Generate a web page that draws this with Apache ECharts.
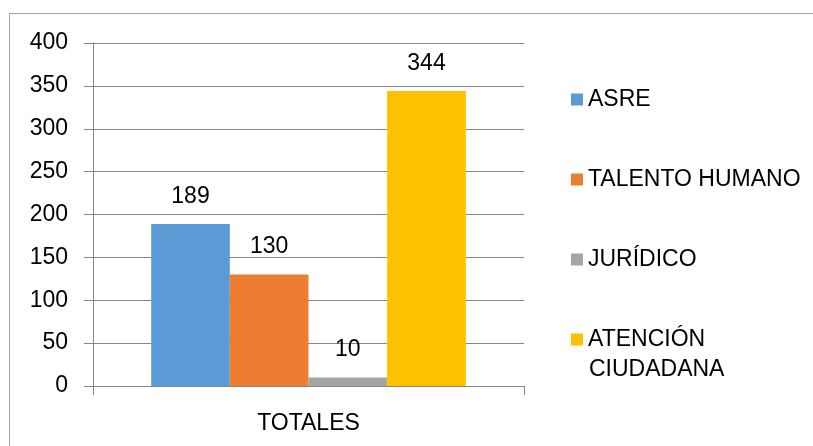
<!DOCTYPE html>
<html>
<head>
<meta charset="utf-8">
<script src="https://cdn.jsdelivr.net/npm/echarts@6/dist/echarts.min.js"></script>
<style>
  html, body { margin: 0; padding: 0; background: #fff; }
  #chart { width: 813px; height: 446px; }
</style>
</head>
<body>
<div id="chart"></div>
<script>
// datos del gráfico
const categories = ['TOTALES']
const seriesNames = ['ASRE', 'TALENTO HUMANO', 'JURÍDICO', 'ATENCIÓN CIUDADANA']
const seriesValues = [[189], [130], [10], [344]]
const colors = ['#5B9BD5', '#ED7D31', '#A5A5A5', '#FFC000']
const yTicks = [0, 50, 100, 150, 200, 250, 300, 350, 400]

const font = '"Liberation Sans", Arial, sans-serif'
const fs = 23
const chart = echarts.init(document.getElementById('chart'))

chart.setOption({
  animation: false,
  textStyle: { fontFamily: font },
  graphic: [
    {
      type: 'rect',
      shape: { x: 9.5, y: 13.5, width: 900, height: 600 },
      style: { fill: 'none', stroke: '#A0A0A0', lineWidth: 1 },
      silent: true
    },
    {
      // segunda línea de la leyenda "ATENCIÓN CIUDADANA"
      type: 'text',
      left: 589,
      top: 358,
      style: { text: 'CIUDADANA', fill: '#000', font: fs + 'px ' + font },
      silent: true
    }
  ],
  grid: { left: 93, right: 289, top: 43, bottom: 60 },
  legend: [
    {
      orient: 'vertical',
      left: 566,
      top: 83,
      itemWidth: 12,
      itemHeight: 12,
      itemGap: 57,
      icon: 'rect',
      data: seriesNames,
      formatter: name => name === 'ATENCIÓN CIUDADANA' ? 'ATENCIÓN' : name,
      textStyle: { fontFamily: font, fontSize: fs, color: '#000', lineHeight: 20 }
    }
  ],
  xAxis: {
    type: 'category',
    data: categories,
    axisLine: { lineStyle: { color: '#868686' } },
    axisTick: { show: true, length: 9, lineStyle: { color: '#868686' } },
    axisLabel: { color: '#000', fontSize: fs, fontFamily: font, margin: 26 }
  },
  yAxis: {
    type: 'value',
    min: yTicks[0],
    max: yTicks[yTicks.length - 1],
    interval: 50,
    axisLine: { show: true, lineStyle: { color: '#868686' } },
    axisTick: { show: true, length: 9, lineStyle: { color: '#868686' } },
    splitLine: { lineStyle: { color: '#868686' } },
    axisLabel: { color: '#000', fontSize: fs, fontFamily: font, margin: 25 }
  },
  series: seriesNames.map((name, i) => ({
    name,
    type: 'bar',
    data: seriesValues[i],
    barGap: '0%',
    barCategoryGap: '27%',
    itemStyle: { color: colors[i] },
    label: {
      show: true,
      position: 'top',
      distance: 16,
      color: '#000',
      fontSize: fs,
      fontFamily: font
    }
  }))
})
</script>
</body>
</html>
